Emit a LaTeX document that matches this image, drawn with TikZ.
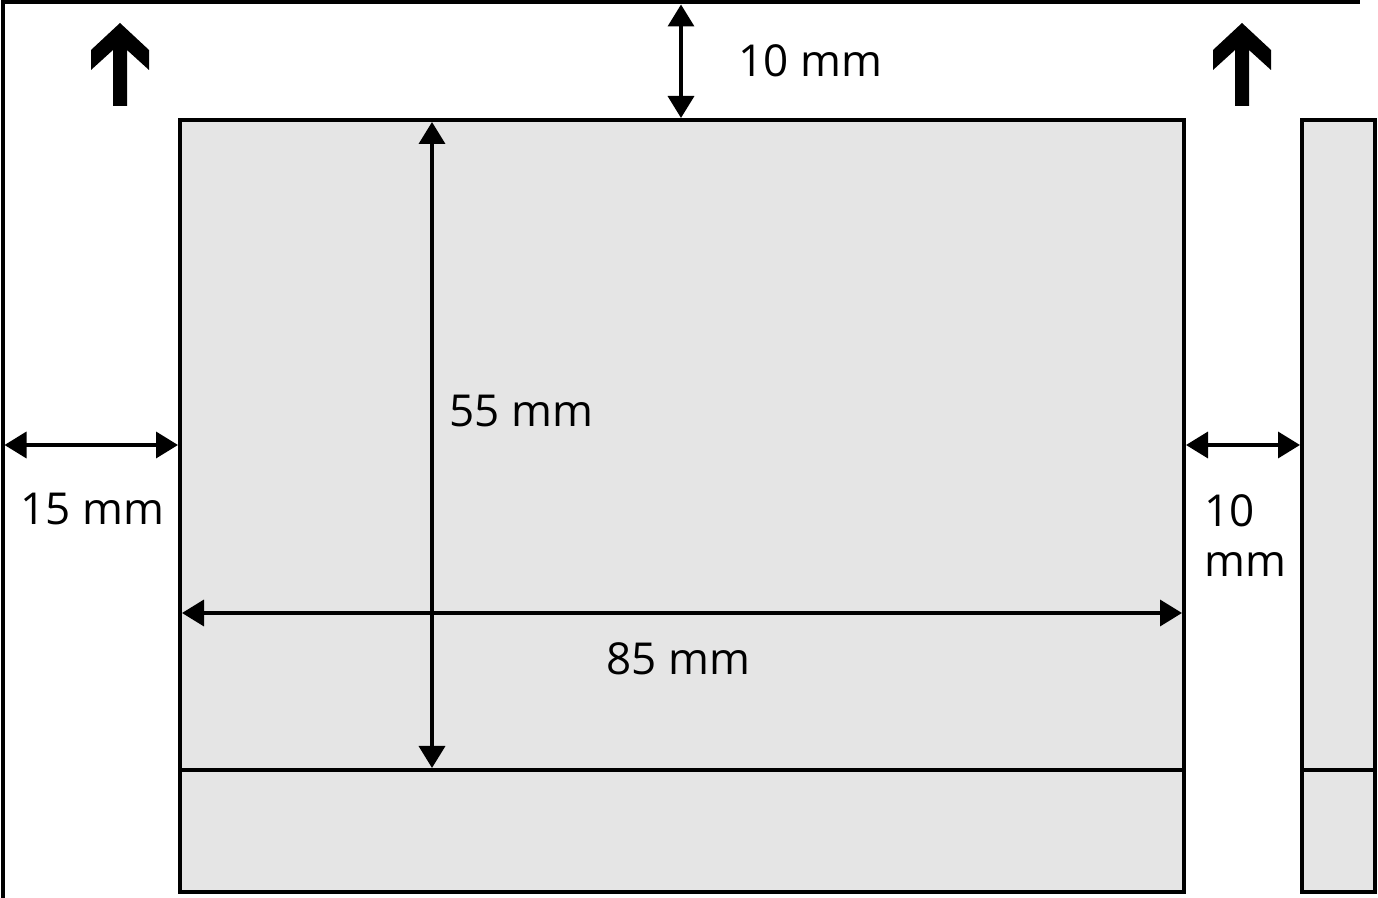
\documentclass[tikz,border=0pt]{standalone}
\usepackage{fontspec}
\setmainfont{Open Sans}
\usetikzlibrary{arrows.meta}
\definecolor{cardgray}{gray}{0.9}

\tikzset{
  frame/.style={line width=2pt},
  card/.style={draw, line width=2pt, fill=cardgray},
  dim/.style={line width=1.8pt,
    {Triangle[length=11pt,width=13pt]}-{Triangle[length=11pt,width=13pt]}},
  dimlabel/.style={font=\fontsize{22}{25}\selectfont, inner sep=0pt},
  uparrow/.pic={\fill (0,0) -- (29,27) -- (29,47) -- (7,27) -- (7,83)
    -- (-7,83) -- (-7,27) -- (-29,47) -- (-29,27) -- cycle;}
}

\begin{document}
\begin{tikzpicture}[x=0.5pt, y=-0.5pt]
  \useasboundingbox (0,0) rectangle (1378,898);
  % outer sheet edge
  \draw[frame] (2.5,898) -- (2.5,2.5) -- (1360,2.5);
  % card and side view
  \draw[card] (180,120) rectangle (1184,892);
  \draw[frame] (180,770) -- (1184,770);
  \draw[card] (1302,120) rectangle (1375,892);
  \draw[frame] (1302,770) -- (1375,770);
  % feed direction
  \pic at (120,23) {uparrow};
  \pic at (1242,23) {uparrow};
  % dimension ends
  \coordinate (topA) at (681,4.5);   \coordinate (topB) at (681,118);
  \coordinate (leftA) at (4.5,445);  \coordinate (leftB) at (178,445);
  \coordinate (rightA) at (1186,445); \coordinate (rightB) at (1300,445);
  \coordinate (hA) at (182,613);     \coordinate (hB) at (1182,613);
  \coordinate (vA) at (432,122);     \coordinate (vB) at (432,768);
  \draw[dim] (topA) -- (topB);
  \draw[dim] (leftA) -- (leftB);
  \draw[dim] (rightA) -- (rightB);
  \draw[dim] (hA) -- (hB);
  \draw[dim] (vA) -- (vB);
  % labels
  \node[dimlabel, anchor=base west] (topmm) at (738,77) {10 mm};
  \node[dimlabel, anchor=base west] (heightmm) at (449,427) {55 mm};
  \node[dimlabel, anchor=base west] (widthmm) at (606,675) {85 mm};
  \node[dimlabel, anchor=base west] (leftmm) at (20,525) {15 mm};
  \node[dimlabel, anchor=base west, align=left] (rightmm) at (1204,577) {10\\mm};
\end{tikzpicture}
\end{document}
